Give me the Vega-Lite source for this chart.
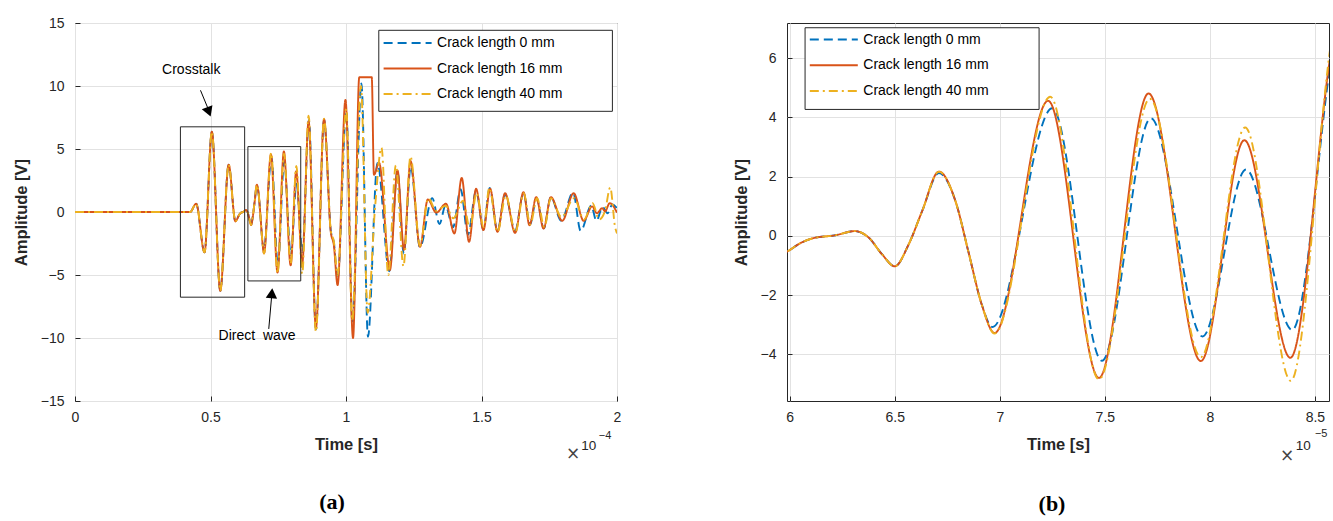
{
  "$schema": "https://vega.github.io/schema/vega-lite/v6.json",
  "background": "white",
  "padding": {"left": 12, "top": 15, "right": 4, "bottom": 5},
  "bounds": "flush",
  "spacing": 170,
  "datasets": {
    "wave": [
      {"t":0,"v":0,"c":0},{"t":42.5,"v":0,"c":0},{"t":44.7,"v":0.66,"c":0},{"t":47.8,"v":-3.2,"c":0},{"t":50.5,"v":6.37,"c":0},{"t":53.6,"v":-6.26,"c":0},{"t":56.7,"v":3.76,"c":0},{"t":59.2,"v":-0.75,"c":0},{"t":59.86,"v":-0.54,"c":0},{"t":60.5,"v":-0.25,"c":0},{"t":61.06,"v":-0.09,"c":0},{"t":62.17,"v":0.02,"c":0},{"t":63.1,"v":0.16,"c":0},{"t":63.76,"v":-0.06,"c":0},{"t":64.4,"v":-0.63,"c":0},{"t":65.0,"v":-1.03,"c":0},{"t":65.66,"v":-0.29,"c":0},{"t":66.3,"v":0.83,"c":0},{"t":67.1,"v":2.12,"c":0},{"t":67.89,"v":1.17,"c":0},{"t":68.5,"v":-0.52,"c":0},{"t":69.14,"v":-2.32,"c":0},
      {"t":69.65,"v":-3.08,"c":0},{"t":72.5,"v":4.31,"c":0},{"t":74.86,"v":-4.22,"c":0},{"t":77.19,"v":3.97,"c":0},{"t":79.65,"v":-3.4,"c":0},{"t":81.72,"v":2.24,"c":0},{"t":83.92,"v":-3.18,"c":0},{"t":86.3,"v":7.3,"c":0},{"t":88.9,"v":-9.3,"c":0},{"t":91.9,"v":7.3,"c":0},{"t":94.4,"v":-1.5,"c":0},{"t":95.5,"v":-2.4,"c":0},{"t":96.9,"v":-5.3,"c":0},{"t":100.1,"v":8.0,"c":0},{"t":102.4,"v":-8.8,"c":0},{"t":105.7,"v":10.2,"c":0},{"t":108.1,"v":-9.9,"c":0},{"t":111.6,"v":3.9,"c":0},{"t":116.0,"v":-4.7,"c":0},{"t":119.0,"v":3.3,"c":0},{"t":121.3,"v":-3.3,"c":0},{"t":123.9,"v":3.6,"c":0},{"t":127.3,"v":-2.8,"c":0},{"t":131.8,"v":1.1,"c":0},{"t":134.5,"v":-0.95,"c":0},{"t":136.7,"v":0.5,"c":0},{"t":139.5,"v":-1.2,"c":0},{"t":142.3,"v":1.8,"c":0},{"t":145.0,"v":-1.8,"c":0},{"t":148.0,"v":1.7,"c":0},{"t":150.7,"v":-1.4,"c":0},{"t":153.0,"v":1.9,"c":0},{"t":155.9,"v":-1.5,"c":0},{"t":158.7,"v":1.4,"c":0},{"t":162.4,"v":-1.5,"c":0},{"t":165.5,"v":1.5,"c":0},{"t":167.9,"v":-1.0,"c":0},{"t":170.3,"v":1.1,"c":0},{"t":173.0,"v":-1.3,"c":0},{"t":175.6,"v":1.2,"c":0},{"t":179.4,"v":-0.7,"c":0},{"t":183.8,"v":1.55,"c":0},{"t":186.6,"v":-1.5,"c":0},{"t":190.5,"v":0.5,"c":0},{"t":192.4,"v":-0.7,"c":0},{"t":194.7,"v":0.4,"c":0},{"t":196.5,"v":-0.1,"c":0},{"t":198.3,"v":0.6,"c":0},{"t":200,"v":0.3,"c":0},

      {"t":0,"v":0,"c":16},{"t":42.5,"v":0,"c":16},{"t":44.7,"v":0.66,"c":16},{"t":47.8,"v":-3.2,"c":16},{"t":50.5,"v":6.37,"c":16},{"t":53.6,"v":-6.26,"c":16},{"t":56.7,"v":3.76,"c":16},{"t":59.2,"v":-0.75,"c":16},{"t":59.86,"v":-0.54,"c":16},{"t":60.5,"v":-0.25,"c":16},{"t":61.06,"v":-0.09,"c":16},{"t":62.17,"v":0.02,"c":16},{"t":63.1,"v":0.16,"c":16},{"t":63.76,"v":-0.06,"c":16},{"t":64.4,"v":-0.63,"c":16},{"t":65.0,"v":-1.03,"c":16},{"t":65.66,"v":-0.29,"c":16},{"t":66.3,"v":0.83,"c":16},{"t":67.1,"v":2.17,"c":16},{"t":67.89,"v":1.17,"c":16},{"t":68.5,"v":-0.52,"c":16},{"t":69.14,"v":-2.32,"c":16},
      {"t":69.75,"v":-3.28,"c":16},{"t":72.3,"v":4.56,"c":16},{"t":74.72,"v":-4.8,"c":16},{"t":77.08,"v":4.81,"c":16},{"t":79.57,"v":-4.23,"c":16},{"t":81.64,"v":3.23,"c":16},{"t":83.83,"v":-4.12,"c":16},{"t":86.2,"v":7.2,"c":16},{"t":88.9,"v":-9.2,"c":16},{"t":91.9,"v":7.37,"c":16},{"t":94.4,"v":-1.6,"c":16},{"t":95.5,"v":-2.6,"c":16},{"t":96.9,"v":-5.8,"c":16},{"t":99.8,"v":8.9,"c":16},{"t":102.6,"v":-10.0,"c":16},{"t":104.9,"v":10.7,"c":16},{"t":109.5,"v":10.7,"c":16},{"t":110.3,"v":2.95,"c":16},{"t":112.2,"v":3.9,"c":16},{"t":116.2,"v":-4.6,"c":16},{"t":119.0,"v":3.3,"c":16},{"t":121.4,"v":-3.0,"c":16},{"t":123.8,"v":4.05,"c":16},{"t":127.3,"v":-2.76,"c":16},{"t":130.2,"v":1.0,"c":16},{"t":133.3,"v":-0.05,"c":16},{"t":136.9,"v":0.66,"c":16},{"t":140.0,"v":-1.71,"c":16},{"t":142.7,"v":2.71,"c":16},{"t":145.4,"v":-2.37,"c":16},{"t":148.0,"v":1.84,"c":16},{"t":150.7,"v":-1.44,"c":16},{"t":153.2,"v":1.84,"c":16},{"t":155.9,"v":-1.58,"c":16},{"t":158.7,"v":1.5,"c":16},{"t":162.4,"v":-1.66,"c":16},{"t":165.5,"v":1.58,"c":16},{"t":167.7,"v":-1.05,"c":16},{"t":170.2,"v":1.18,"c":16},{"t":172.9,"v":-1.31,"c":16},{"t":175.6,"v":1.18,"c":16},{"t":179.8,"v":-0.7,"c":16},{"t":184.0,"v":1.5,"c":16},{"t":187.7,"v":-0.7,"c":16},{"t":190.8,"v":0.45,"c":16},{"t":192.6,"v":-0.1,"c":16},{"t":194.5,"v":0.3,"c":16},{"t":195.6,"v":0.05,"c":16},{"t":197.3,"v":0.7,"c":16},{"t":200,"v":-0.05,"c":16},

      {"t":0,"v":0,"c":40},{"t":42.5,"v":0,"c":40},{"t":44.7,"v":0.66,"c":40},{"t":47.8,"v":-3.2,"c":40},{"t":50.5,"v":6.37,"c":40},{"t":53.6,"v":-6.26,"c":40},{"t":56.7,"v":3.76,"c":40},{"t":59.2,"v":-0.75,"c":40},{"t":59.86,"v":-0.54,"c":40},{"t":60.5,"v":-0.25,"c":40},{"t":61.06,"v":-0.09,"c":40},{"t":62.17,"v":0.02,"c":40},{"t":63.1,"v":0.16,"c":40},{"t":63.76,"v":-0.06,"c":40},{"t":64.4,"v":-0.63,"c":40},{"t":65.0,"v":-1.03,"c":40},{"t":65.66,"v":-0.29,"c":40},{"t":66.3,"v":0.83,"c":40},{"t":67.1,"v":2.17,"c":40},{"t":67.89,"v":1.17,"c":40},{"t":68.5,"v":-0.52,"c":40},{"t":69.14,"v":-2.32,"c":40},
      {"t":69.75,"v":-3.3,"c":40},{"t":72.4,"v":4.7,"c":40},{"t":74.72,"v":-4.85,"c":40},{"t":77.14,"v":4.63,"c":40},{"t":79.57,"v":-4.1,"c":40},{"t":81.68,"v":3.66,"c":40},{"t":83.85,"v":-4.9,"c":40},{"t":86.2,"v":7.65,"c":40},{"t":88.9,"v":-9.5,"c":40},{"t":91.9,"v":7.4,"c":40},{"t":94.4,"v":-1.5,"c":40},{"t":95.5,"v":-2.3,"c":40},{"t":96.9,"v":-5.0,"c":40},{"t":100.1,"v":8.2,"c":40},{"t":102.3,"v":-8.6,"c":40},{"t":105.5,"v":10.0,"c":40},{"t":108.0,"v":-8.0,"c":40},{"t":110.7,"v":0.3,"c":40},{"t":113.1,"v":5.1,"c":40},{"t":115.6,"v":-5.0,"c":40},{"t":118.4,"v":3.7,"c":40},{"t":121.2,"v":-4.3,"c":40},{"t":123.8,"v":4.4,"c":40},{"t":127.3,"v":-2.7,"c":40},{"t":130.4,"v":1.1,"c":40},{"t":133.2,"v":0.1,"c":40},{"t":136.8,"v":0.5,"c":40},{"t":139.6,"v":-0.5,"c":40},{"t":143.2,"v":0.9,"c":40},{"t":145.7,"v":-1.3,"c":40},{"t":148.2,"v":1.5,"c":40},{"t":150.8,"v":-1.2,"c":40},{"t":152.9,"v":1.92,"c":40},{"t":155.9,"v":-1.58,"c":40},{"t":159.0,"v":1.3,"c":40},{"t":162.5,"v":-1.6,"c":40},{"t":165.6,"v":1.5,"c":40},{"t":168.0,"v":-1.0,"c":40},{"t":170.5,"v":1.1,"c":40},{"t":173.2,"v":-1.2,"c":40},{"t":175.6,"v":1.1,"c":40},{"t":179.5,"v":-0.4,"c":40},{"t":184.2,"v":1.1,"c":40},{"t":187.8,"v":-0.6,"c":40},{"t":191.0,"v":0.7,"c":40},{"t":193.4,"v":-0.6,"c":40},{"t":195.6,"v":0.1,"c":40},{"t":197.5,"v":1.95,"c":40},{"t":199.3,"v":-1.2,"c":40},{"t":200,"v":-1.7,"c":40}
    ],
    "boxesA": [
      {"t1": 38.9, "t2": 62.6, "v1": -6.76, "v2": 6.76},
      {"t1": 63.8, "t2": 83.3, "v1": -5.47, "v2": 5.19}
    ],
    "legendBoxA": [{"t1": 112.1, "t2": 198.3, "v1": 7.99, "v2": 14.42}],
    "legendBoxB": [{"t1": 60.73, "t2": 71.87, "v1": 4.27, "v2": 7.03}],
    "arrowsA": [
      {"t1": 46.3, "v1": 9.66, "t2": 49.3, "v2": 8.1},
      {"t1": 71.5, "v1": -9.28, "t2": 72.6, "v2": -6.6}
    ],
    "headDown": [{"t": 49.4, "v": 7.95}],
    "headUp": [{"t": 72.64, "v": -6.45}],
    "labelsA": [
      {"t": 42.9, "v": 11.26, "label": "Crosstalk"},
      {"t": 67.2, "v": -9.81, "label": "Direct\u00a0 wave"}
    ],
    "timesA": [{"t": 183.8, "v": -19.2, "label": "×"}],
    "tenA": [{"t": 189.6, "v": -18.6, "label": "10"}],
    "expA": [{"t": 193.3, "v": -17.8, "label": "−4"}],
    "timesB": [{"t": 83.68, "v": -7.44, "label": "×"}],
    "tenB": [{"t": 84.44, "v": -7.1, "label": "10"}],
    "expB": [{"t": 85.0, "v": -6.7, "label": "−5"}]
  },
  "hconcat": [
    {
      "width": 542,
      "height": 378,
      "title": {"text": "(a)", "orient": "bottom", "frame": "group", "anchor": "middle", "font": "Liberation Serif", "fontSize": 22, "fontWeight": "bold", "color": "#000000", "dx": -14, "offset": 30},
      "layer": [
        {
          "data": {"name": "wave"},
          "mark": {"type": "line", "interpolate": "monotone", "strokeWidth": 1.9, "clip": true},
          "encoding": {
            "x": {"field": "t", "type": "quantitative", "scale": {"domain": [0, 200], "nice": false, "zero": false},
                  "axis": {"values": [0, 50, 100, 150, 200], "labelExpr": "'' + (datum.value / 100)", "title": "Time [s]"}},
            "y": {"field": "v", "type": "quantitative", "scale": {"domain": [-15, 15], "nice": false},
                  "axis": {"values": [-15, -10, -5, 0, 5, 10, 15], "title": "Amplitude [V]"}},
            "color": {"field": "c", "type": "nominal", "scale": {"domain": [0, 16, 40], "range": ["#0072BD", "#D95319", "#EDB120"]},
                      "legend": {"orient": "none", "legendX": 325.6, "legendY": 13, "title": null, "padding": 0, "symbolType": "M-4,0H4", "symbolSize": 144, "symbolStrokeWidth": 2, "labelOffset": 22.5, "labelFont": "Liberation Sans", "labelFontSize": 14, "labelColor": "#000000", "rowPadding": 11.5, "labelExpr": "'Crack length ' + datum.label + ' mm'"}},
            "strokeDash": {"field": "c", "type": "nominal", "scale": {"domain": [0, 16, 40], "range": [[9, 5], [1, 0], [9, 4, 2, 4]]},
                      "legend": {"orient": "none", "legendX": 325.6, "legendY": 13, "title": null, "padding": 0, "symbolType": "M-4,0H4", "symbolSize": 144, "symbolStrokeWidth": 2, "labelOffset": 22.5, "labelFont": "Liberation Sans", "labelFontSize": 14, "labelColor": "#000000", "rowPadding": 11.5, "labelExpr": "'Crack length ' + datum.label + ' mm'"}}
          }
        },
        {
          "data": {"name": "boxesA"},
          "mark": {"type": "rect", "filled": false, "stroke": "#262626", "strokeWidth": 1},
          "encoding": {"x": {"field": "t1", "type": "quantitative"}, "x2": {"field": "t2"}, "y": {"field": "v1", "type": "quantitative"}, "y2": {"field": "v2"}}
        },
        {
          "data": {"name": "legendBoxA"},
          "mark": {"type": "rect", "fill": "white", "stroke": "#262626", "strokeWidth": 1},
          "encoding": {"x": {"field": "t1", "type": "quantitative"}, "x2": {"field": "t2"}, "y": {"field": "v1", "type": "quantitative"}, "y2": {"field": "v2"}}
        },
        {
          "data": {"name": "arrowsA"},
          "mark": {"type": "rule", "color": "#000000", "strokeWidth": 1},
          "encoding": {"x": {"field": "t1", "type": "quantitative"}, "x2": {"field": "t2"}, "y": {"field": "v1", "type": "quantitative"}, "y2": {"field": "v2"}}
        },
        {
          "data": {"name": "headDown"},
          "mark": {"type": "point", "shape": "triangle-down", "filled": true, "color": "#000000", "size": 130, "angle": 339, "opacity": 1},
          "encoding": {"x": {"field": "t", "type": "quantitative"}, "y": {"field": "v", "type": "quantitative"}}
        },
        {
          "data": {"name": "headUp"},
          "mark": {"type": "point", "shape": "triangle-up", "filled": true, "color": "#000000", "size": 130, "angle": 5, "opacity": 1},
          "encoding": {"x": {"field": "t", "type": "quantitative"}, "y": {"field": "v", "type": "quantitative"}}
        },
        {
          "data": {"name": "labelsA"},
          "mark": {"type": "text", "font": "Liberation Sans", "fontSize": 14, "color": "#000000", "align": "center", "baseline": "middle"},
          "encoding": {"x": {"field": "t", "type": "quantitative"}, "y": {"field": "v", "type": "quantitative"}, "text": {"field": "label"}}
        },
        {
          "data": {"name": "timesA"},
          "mark": {"type": "text", "font": "DejaVu Sans", "fontSize": 17, "color": "#444444", "align": "center", "baseline": "middle"},
          "encoding": {"x": {"field": "t", "type": "quantitative"}, "y": {"field": "v", "type": "quantitative"}, "text": {"field": "label"}}
        },
        {
          "data": {"name": "tenA"},
          "mark": {"type": "text", "font": "Liberation Sans", "fontSize": 13.5, "color": "#262626", "align": "center", "baseline": "middle"},
          "encoding": {"x": {"field": "t", "type": "quantitative"}, "y": {"field": "v", "type": "quantitative"}, "text": {"field": "label"}}
        },
        {
          "data": {"name": "expA"},
          "mark": {"type": "text", "font": "Liberation Sans", "fontSize": 11, "color": "#262626", "align": "left", "baseline": "middle"},
          "encoding": {"x": {"field": "t", "type": "quantitative"}, "y": {"field": "v", "type": "quantitative"}, "text": {"field": "label"}}
        }
      ]
    },
    {
      "width": 542,
      "height": 378,
      "title": {"text": "(b)", "orient": "bottom", "frame": "group", "anchor": "middle", "font": "Liberation Serif", "fontSize": 22, "fontWeight": "bold", "color": "#000000", "dx": -6, "offset": 30},
      "layer": [
        {
          "data": {"name": "wave"},
          "mark": {"type": "line", "interpolate": "monotone", "strokeWidth": 1.9, "clip": true},
          "encoding": {
            "x": {"field": "t", "type": "quantitative", "scale": {"domain": [59.87, 85.67], "nice": false, "zero": false},
                  "axis": {"values": [60, 65, 70, 75, 80, 85], "labelExpr": "'' + (datum.value / 10)", "title": "Time [s]"}},
            "y": {"field": "v", "type": "quantitative", "scale": {"domain": [-5.58, 7.19], "nice": false, "zero": false},
                  "axis": {"values": [-4, -2, 0, 2, 4, 6], "title": "Amplitude [V]"}},
            "color": {"field": "c", "type": "nominal", "scale": {"domain": [0, 16, 40], "range": ["#0072BD", "#D95319", "#EDB120"]},
                      "legend": {"orient": "none", "legendX": 39.8, "legendY": 9.5, "title": null, "padding": 0, "symbolType": "M-4,0H4", "symbolSize": 144, "symbolStrokeWidth": 2, "labelOffset": 22.5, "labelFont": "Liberation Sans", "labelFontSize": 14, "labelColor": "#000000", "rowPadding": 11.8, "labelExpr": "'Crack length ' + datum.label + ' mm'"}},
            "strokeDash": {"field": "c", "type": "nominal", "scale": {"domain": [0, 16, 40], "range": [[9, 5], [1, 0], [9, 4, 2, 4]]},
                      "legend": {"orient": "none", "legendX": 39.8, "legendY": 9.5, "title": null, "padding": 0, "symbolType": "M-4,0H4", "symbolSize": 144, "symbolStrokeWidth": 2, "labelOffset": 22.5, "labelFont": "Liberation Sans", "labelFontSize": 14, "labelColor": "#000000", "rowPadding": 11.8, "labelExpr": "'Crack length ' + datum.label + ' mm'"}}
          }
        },
        {
          "data": {"name": "legendBoxB"},
          "mark": {"type": "rect", "fill": "white", "stroke": "#262626", "strokeWidth": 1},
          "encoding": {"x": {"field": "t1", "type": "quantitative"}, "x2": {"field": "t2"}, "y": {"field": "v1", "type": "quantitative"}, "y2": {"field": "v2"}}
        },
        {
          "data": {"name": "timesB"},
          "mark": {"type": "text", "font": "DejaVu Sans", "fontSize": 17, "color": "#444444", "align": "center", "baseline": "middle"},
          "encoding": {"x": {"field": "t", "type": "quantitative"}, "y": {"field": "v", "type": "quantitative"}, "text": {"field": "label"}}
        },
        {
          "data": {"name": "tenB"},
          "mark": {"type": "text", "font": "Liberation Sans", "fontSize": 13.5, "color": "#262626", "align": "center", "baseline": "middle"},
          "encoding": {"x": {"field": "t", "type": "quantitative"}, "y": {"field": "v", "type": "quantitative"}, "text": {"field": "label"}}
        },
        {
          "data": {"name": "expB"},
          "mark": {"type": "text", "font": "Liberation Sans", "fontSize": 11, "color": "#262626", "align": "left", "baseline": "middle"},
          "encoding": {"x": {"field": "t", "type": "quantitative"}, "y": {"field": "v", "type": "quantitative"}, "text": {"field": "label"}}
        }
      ]
    }
  ],
  "resolve": {
    "scale": {"x": "independent", "y": "independent", "color": "independent", "strokeDash": "independent"},
    "legend": {"color": "independent", "strokeDash": "independent"}
  },
  "config": {
    "font": "Liberation Sans",
    "view": {"stroke": "#262626", "strokeWidth": 1},
    "axis": {
      "labelFont": "Liberation Sans", "labelFontSize": 14, "labelColor": "#262626",
      "titleFont": "Liberation Sans", "titleFontSize": 16.5, "titleFontWeight": "bold", "titleColor": "#262626",
      "grid": true, "gridColor": "#e2e2e2", "gridWidth": 1,
      "domain": false, "ticks": true, "tickSize": -5, "tickColor": "#262626",
      "labelOverlap": false, "labelBound": false, "labelFlush": false
    },
    "axisX": {"labelPadding": 14, "titlePadding": 12},
    "axisY": {"labelPadding": 16, "titlePadding": 11}
  }
}
